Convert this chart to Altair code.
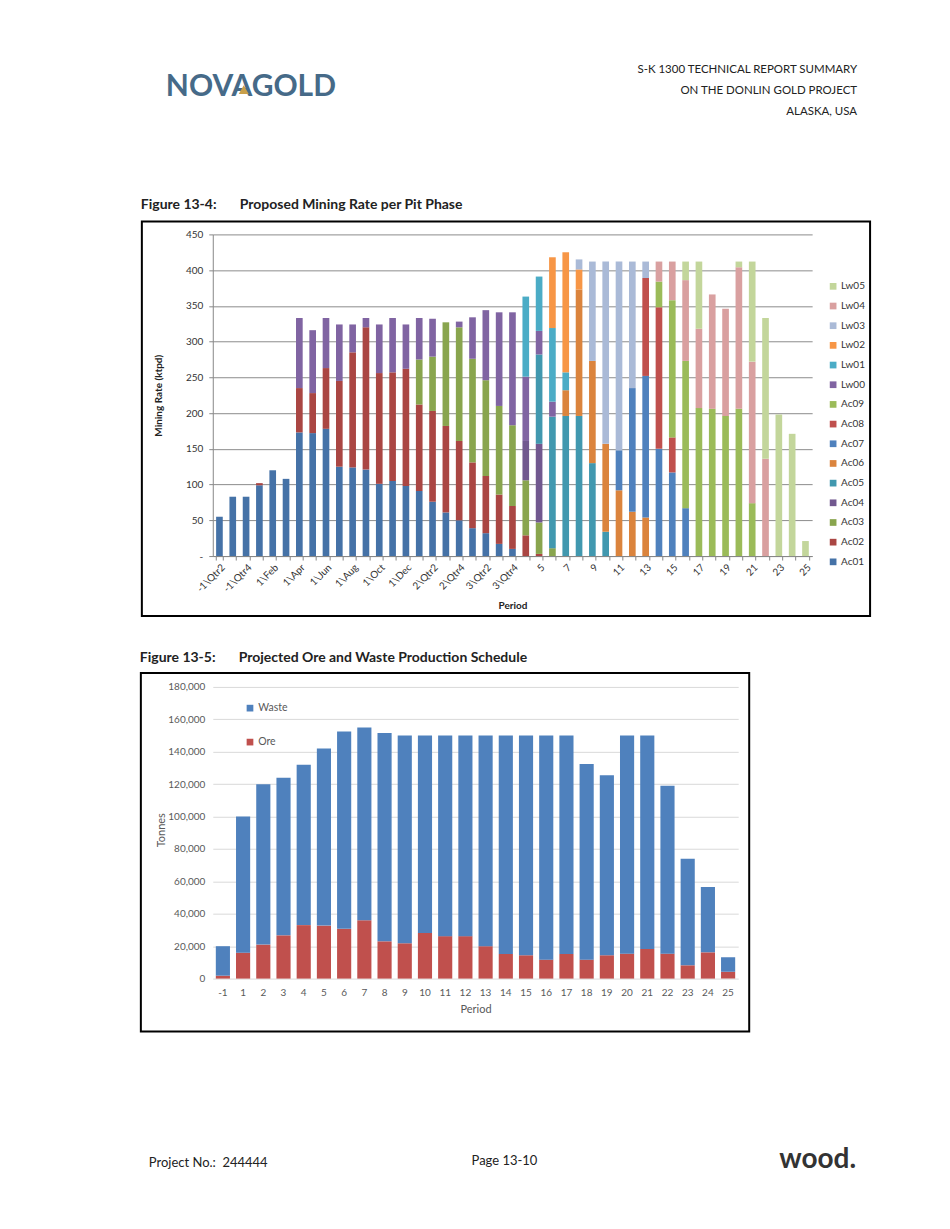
import altair as alt
import pandas as pd

FONT = "Lato"

# ---------------- Figure 13-4 data (ktpd per pit phase) ----------------
periods = ["-1\\Qtr2", "-1\\Qtr3", "-1\\Qtr4", "1\\Jan", "1\\Feb", "1\\Mar", "1\\Apr", "1\\May",
           "1\\Jun", "1\\Jul", "1\\Aug", "1\\Sep", "1\\Oct", "1\\Nov", "1\\Dec",
           "2\\Qtr1", "2\\Qtr2", "2\\Qtr3", "2\\Qtr4", "3\\Qtr1", "3\\Qtr2", "3\\Qtr3", "3\\Qtr4",
           "4", "5", "6", "7", "8", "9", "10", "11", "12", "13", "14", "15", "16", "17",
           "18", "19", "20", "21", "22", "23", "24", "25"]

phases = ["Ac01", "Ac02", "Ac03", "Ac04", "Ac05", "Ac06", "Ac07", "Ac08", "Ac09",
          "Lw00", "Lw01", "Lw02", "Lw03", "Lw04", "Lw05"]
phase_colors = ["#4572A7", "#AA4643", "#89A54E", "#71588F", "#4198AF", "#DB843D", "#4F81BD",
                "#C0504D", "#9BBB59", "#8064A2", "#4BACC6", "#F79646", "#AABAD7", "#D9A0A0",
                "#C3D69B"]

Ac01 = [55, 83, 83, 99, 120, 108, 173, 172, 178, 125, 124, 121, 101, 105, 98, 91, 76, 61, 50, 39, 32, 17, 10,
        0, 0, 0, 0, 0, 0, 0, 0, 0, 0, 0, 0, 0, 0, 0, 0, 0, 0, 0, 0, 0, 0]
Ac02 = [0, 0, 0, 3, 0, 0, 62, 56, 85, 120, 161, 199, 155, 152, 164, 121, 127, 121, 111, 92, 80, 69, 60, 29, 3,
        0, 0, 0, 0, 0, 0, 0, 0, 0, 0, 0, 0, 0, 0, 0, 0, 0, 0, 0, 0]
Ac03 = [0, 0, 0, 0, 0, 0, 0, 0, 0, 0, 0, 0, 0, 0, 0, 63, 76, 145, 159, 145, 134, 124, 113, 77, 44, 11,
        0, 0, 0, 0, 0, 0, 0, 0, 0, 0, 0, 0, 0, 0, 0, 0, 0, 0, 0]
Ac04 = [0, 0, 0, 0, 0, 0, 0, 0, 0, 0, 0, 0, 0, 0, 0, 0, 0, 0, 0, 0, 0, 0, 0, 55, 110,
        0, 0, 0, 0, 0, 0, 0, 0, 0, 0, 0, 0, 0, 0, 0, 0, 0, 0, 0, 0]
Ac05 = [0, 0, 0, 0, 0, 0, 0, 0, 0, 0, 0, 0, 0, 0, 0, 0, 0, 0, 0, 0, 0, 0, 0, 0, 125, 184, 196, 196, 130, 34,
        0, 0, 0, 0, 0, 0, 0, 0, 0, 0, 0, 0, 0, 0, 0]
Ac06 = [0, 0, 0, 0, 0, 0, 0, 0, 0, 0, 0, 0, 0, 0, 0, 0, 0, 0, 0, 0, 0, 0, 0, 0, 0, 0, 36, 177, 143, 123, 92, 62, 54,
        0, 0, 0, 0, 0, 0, 0, 0, 0, 0, 0, 0]
Ac07 = [0, 0, 0, 0, 0, 0, 0, 0, 0, 0, 0, 0, 0, 0, 0, 0, 0, 0, 0, 0, 0, 0, 0, 0, 0, 0, 0, 0, 0, 0,
        56, 173, 198, 150, 117, 67, 0, 0, 0, 0, 0, 0, 0, 0, 0]
Ac08 = [0, 0, 0, 0, 0, 0, 0, 0, 0, 0, 0, 0, 0, 0, 0, 0, 0, 0, 0, 0, 0, 0, 0, 0, 0, 0, 0, 0, 0, 0, 0, 0,
        137, 198, 49, 0, 0, 0, 0, 0, 0, 0, 0, 0, 0]
Ac09 = [0, 0, 0, 0, 0, 0, 0, 0, 0, 0, 0, 0, 0, 0, 0, 0, 0, 0, 0, 0, 0, 0, 0, 0, 0, 0, 0, 0, 0, 0, 0, 0, 0,
        36, 192, 206, 207, 206, 196, 206, 74, 0, 0, 0, 0]
Lw00 = [0, 0, 0, 0, 0, 0, 98, 88, 70, 79, 39, 13, 68, 76, 62, 58, 53, 0, 8, 58, 98, 131, 158, 90, 33, 21,
        0, 0, 0, 0, 0, 0, 0, 0, 0, 0, 0, 0, 0, 0, 0, 0, 0, 0, 0]
Lw01 = [0, 0, 0, 0, 0, 0, 0, 0, 0, 0, 0, 0, 0, 0, 0, 0, 0, 0, 0, 0, 0, 0, 0, 112, 76, 103, 25,
        0, 0, 0, 0, 0, 0, 0, 0, 0, 0, 0, 0, 0, 0, 0, 0, 0, 0]
Lw02 = [0, 0, 0, 0, 0, 0, 0, 0, 0, 0, 0, 0, 0, 0, 0, 0, 0, 0, 0, 0, 0, 0, 0, 0, 0, 99, 168, 28,
        0, 0, 0, 0, 0, 0, 0, 0, 0, 0, 0, 0, 0, 0, 0, 0, 0]
Lw03 = [0, 0, 0, 0, 0, 0, 0, 0, 0, 0, 0, 0, 0, 0, 0, 0, 0, 0, 0, 0, 0, 0, 0, 0, 0, 0, 0,
        14, 139, 255, 264, 177, 23, 0, 0, 0, 0, 0, 0, 0, 0, 0, 0, 0, 0]
Lw04 = [0, 0, 0, 0, 0, 0, 0, 0, 0, 0, 0, 0, 0, 0, 0, 0, 0, 0, 0, 0, 0, 0, 0, 0, 0, 0, 0, 0, 0, 0, 0, 0, 0,
        28, 54, 113, 111, 160, 150, 198, 198, 136, 0, 0, 0]
Lw05 = [0, 0, 0, 0, 0, 0, 0, 0, 0, 0, 0, 0, 0, 0, 0, 0, 0, 0, 0, 0, 0, 0, 0, 0, 0, 0, 0, 0, 0, 0, 0, 0, 0, 0, 0,
        26, 94, 0, 0, 8, 140, 197, 198, 171, 21]

rates = [Ac01, Ac02, Ac03, Ac04, Ac05, Ac06, Ac07, Ac08, Ac09, Lw00, Lw01, Lw02, Lw03, Lw04, Lw05]

# ---------------- Figure 13-5 data (tonnes) ----------------
periods2 = ["-1", "1", "2", "3", "4", "5", "6", "7", "8", "9", "10", "11", "12", "13", "14", "15",
            "16", "17", "18", "19", "20", "21", "22", "23", "24", "25"]
ore = [1800, 16000, 21000, 26700, 33000, 32700, 30700, 36000, 23000, 21800, 28200, 26200, 26200,
       20000, 15200, 14400, 11700, 15200, 11700, 14400, 15400, 18300, 15400, 8200, 16200, 4300]
waste = [18200, 84000, 99000, 97300, 99000, 109300, 121800, 119000, 128500, 128200, 121800, 123800,
         123800, 130000, 134800, 135600, 138300, 134800, 120800, 111100, 134600, 131700, 103600,
         65800, 40300, 8900]

# ---------------- page texts ----------------
logo_text = "NOVAGOLD"
header_lines = ["S-K 1300 TECHNICAL REPORT SUMMARY", "ON THE DONLIN GOLD PROJECT", "ALASKA, USA"]
fig1_num, fig1_title = "Figure 13-4:", "Proposed Mining Rate per Pit Phase"
fig2_num, fig2_title = "Figure 13-5:", "Projected Ore and Waste Production Schedule"
footer_left = "Project No.:\u00a0 244444"
footer_mid = "Page 13-10"
footer_right = "wood."

# ---------------- long tables ----------------
rows1 = []
for i, p in enumerate(periods):
    for k, ph in enumerate(phases):
        v = rates[k][i]
        if v > 0:
            rows1.append({"period": p, "phase": ph, "rate": v, "ord": k})
df1 = pd.DataFrame(rows1)

rows2 = []
for i, p in enumerate(periods2):
    rows2.append({"period": p, "type": "Ore", "tonnes": ore[i], "ord": 0})
    rows2.append({"period": p, "type": "Waste", "tonnes": waste[i], "ord": 1})
df2 = pd.DataFrame(rows2)


def txt(s, x, y, size, weight="normal", color="#222222", align="left"):
    return alt.Chart(pd.DataFrame({"t": [s]})).mark_text(
        align=align, baseline="alphabetic", fontSize=size, fontWeight=weight, color=color, font=FONT
    ).encode(text="t:N", x=alt.value(x), y=alt.value(y))


def box(x1, x2, y1, y2, stroke=None, sw=0):
    kw = dict(fill="transparent")
    if stroke:
        kw.update(stroke=stroke, strokeWidth=sw)
    return alt.Chart(pd.DataFrame({"a": [0]})).mark_rect(**kw).encode(
        x=alt.value(x1), x2=alt.value(x2), y=alt.value(y1), y2=alt.value(y2))


logo_mark = alt.Chart(pd.DataFrame({"a": [0]})).mark_point(
    shape="triangle-up", filled=True, size=100, color="#C9A04A", opacity=1
).encode(x=alt.value(31), y=alt.value(-145))

# ---------------- panel 1 ----------------
W1, H1 = 600, 322
n1 = len(periods)
bars1 = alt.Chart(df1).mark_bar().encode(
    x=alt.X("period:N", sort=None,
            scale=alt.Scale(paddingInner=0.5, paddingOuter=0.25),
            axis=alt.Axis(title="Period", labelAngle=-45, labelAlign="right", labelBaseline="top",
                          labelExpr=f"round(datum.index*{n1 - 1}) % 2 == 0 ? datum.label : ''",
                          labelOverlap=False, tickBand="extent", tickSize=4, tickColor="#888888",
                          domainColor="#888888", labelFontSize=10, labelColor="#333333",
                          labelPadding=2, titleFontWeight="bold", titleFontSize=10,
                          titleColor="#222222", titleY=50, titleBaseline="middle", grid=False)),
    y=alt.Y("rate:Q", stack="zero", scale=alt.Scale(domain=[0, 450], nice=False),
            axis=alt.Axis(values=list(range(0, 451, 50)), title="Mining Rate (ktpd)",
                          labelExpr="datum.value == 0 ? '-\u00a0\u00a0\u00a0' : datum.label",
                          gridColor="#8C8C8C", domainColor="#888888", tickColor="#888888",
                          tickSize=4, labelFontSize=10, labelColor="#333333", labelPadding=6,
                          titleFontWeight="bold", titleFontSize=10, titleColor="#222222",
                          titleX=-54, titleY=H1 / 2, titleAngle=-90, titleAlign="center",
                          titleBaseline="middle")),
    color=alt.Color("phase:N", scale=alt.Scale(domain=phases[::-1], range=phase_colors[::-1]),
                    legend=alt.Legend(title=None, orient="none", legendX=616, legendY=47,
                                      symbolType="square", symbolSize=45, symbolStrokeWidth=0,
                                      labelFontSize=10, labelColor="#333333", rowPadding=9.7,
                                      labelOffset=3, padding=0)),
    order=alt.Order("ord:Q", sort="ascending"),
)

panel1 = alt.layer(
    box(-204, 730, -226, 402),
    box(-71, 658, -13, 382, stroke="black", sw=2),
    bars1,
    txt(logo_text, -47, -139, 30, weight="bold", color="#466A88"),
    logo_mark,
    txt(header_lines[0], 645, -162, 11.5, align="right"),
    txt(header_lines[1], 645, -141, 11.5, align="right"),
    txt(header_lines[2], 645, -120, 11.5, align="right"),
    txt(fig1_num, -72, -25, 14, weight="bold"),
    txt(fig1_title, 27, -25, 14, weight="bold"),
).properties(width=W1, height=H1)

# ---------------- panel 2 ----------------
W2, H2 = 526, 292
bars2 = alt.Chart(df2).mark_bar().encode(
    x=alt.X("period:N", sort=None,
            scale=alt.Scale(paddingInner=0.3, paddingOuter=0.15),
            axis=alt.Axis(title="Period", labelAngle=0, domain=False, ticks=False,
                          labelFontSize=10, labelColor="#595959", labelPadding=9,
                          titleColor="#595959", titleFontSize=11, titleFontWeight="normal",
                          titleY=31, titleBaseline="middle", grid=False)),
    y=alt.Y("tonnes:Q", stack="zero", scale=alt.Scale(domain=[0, 180000], nice=False),
            axis=alt.Axis(values=list(range(0, 180001, 20000)),
                          labelExpr="format(datum.value, ',')", domain=False,
                          ticks=False, gridColor="#D9D9D9", labelFontSize=10,
                          labelColor="#595959", labelPadding=8, title="Tonnes",
                          titleColor="#595959", titleFontSize=11, titleFontWeight="normal",
                          titleX=-51, titleY=143, titleAngle=-90, titleAlign="center",
                          titleBaseline="middle")),
    color=alt.Color("type:N", scale=alt.Scale(domain=["Waste", "Ore"], range=["#4F81BD", "#C0504D"]),
                    legend=alt.Legend(title=None, orient="none", legendX=32, legendY=16,
                                      symbolType="square", symbolSize=45, symbolStrokeWidth=0,
                                      labelFontSize=10.5, labelColor="#595959", rowPadding=23,
                                      labelOffset=3, padding=0)),
    order=alt.Order("ord:Q", sort="ascending"),
)

panel2 = alt.layer(
    box(-205, 729, -51, 513),
    box(-72, 537, -14, 345, stroke="black", sw=2),
    bars2,
    txt(fig2_num, -73, -25, 14, weight="bold"),
    txt(fig2_title, 26, -25, 14, weight="bold"),
    txt(footer_left, -64, 481, 13),
    txt(footer_mid, 292, 479, 13, align="center"),
    txt(footer_right, 644, 482, 28, weight="bold", color="#333333", align="right"),
).properties(width=W2, height=H2)

chart = alt.vconcat(panel1, panel2, spacing=0).resolve_scale(
    color="independent", x="independent", y="independent"
).resolve_legend(color="independent").resolve_axis(x="independent", y="independent").properties(
    padding=0).configure(font=FONT, view=alt.ViewConfig(stroke=None))

chart.save("out.html", embed_options={"renderer": "svg", "actions": False})
